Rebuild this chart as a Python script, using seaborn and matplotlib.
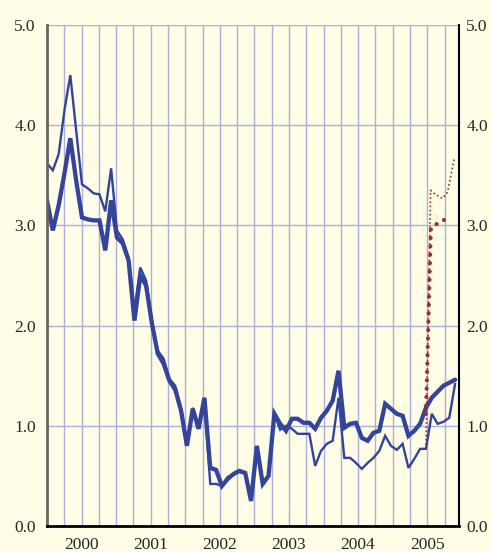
import numpy as np
import pandas as pd
import matplotlib
matplotlib.use("Agg")
import matplotlib.pyplot as plt
import matplotlib.transforms as mtransforms
import seaborn as sns

# ---------------- data ----------------
years = ["2000", "2001", "2002", "2003", "2004", "2005"]
y_ticks = [0.0, 1.0, 2.0, 3.0, 4.0, 5.0]
y_labels = ["0.0", "1.0", "2.0", "3.0", "4.0", "5.0"]

months = np.arange(71)  # Jan 2000 .. Nov 2005

rate_thick = [3.25, 2.95, 3.20, 3.52, 3.87, 3.45, 3.08, 3.06, 3.05, 3.05, 2.75, 3.25,
              2.88, 2.82, 2.65, 2.05, 2.50, 2.40, 2.02, 1.72, 1.62, 1.45, 1.36, 1.15,
              0.80, 1.17, 0.97, 1.28, 0.58, 0.56, 0.40, 0.47, 0.52, 0.55, 0.53, 0.25,
              0.80, 0.42, 0.50, 1.12, 1.02, 0.95, 1.07, 1.07, 1.03, 1.03, 0.97, 1.08,
              1.15, 1.25, 1.55, 0.98, 1.02, 1.03, 0.88, 0.85, 0.93, 0.95, 1.22, 1.17,
              1.12, 1.10, 0.90, 0.95, 1.02, 1.18, 1.28, 1.34, 1.40, 1.43, 1.46]

rate_thin = [3.62, 3.55, 3.71, 4.15, 4.50, 3.95, 3.41, 3.37, 3.32, 3.31, 3.14, 3.57,
             2.95, 2.86, 2.68, 2.15, 2.58, 2.45, 2.05, 1.75, 1.67, 1.47, 1.40, 1.18,
             0.82, 1.18, 0.98, 1.25, 0.42, 0.42, 0.40, 0.49, 0.51, 0.54, 0.52, 0.25,
             0.78, 0.42, 0.50, 1.12, 0.96, 1.00, 0.97, 0.92, 0.92, 0.92, 0.60, 0.75,
             0.82, 0.85, 1.28, 0.68, 0.68, 0.63, 0.57, 0.63, 0.68, 0.75, 0.90, 0.80,
             0.76, 0.82, 0.58, 0.67, 0.77, 0.77, 1.12, 1.02, 1.04, 1.08, 1.42]

fwd_small_months = [65.0, 65.8, 66.4, 67.8, 68.7, 69.9]
fwd_small = [0.77, 3.35, 3.32, 3.27, 3.33, 3.68]

fwd_big_months = [65.0, 65.85, 66.4, 67.7, 68.8]
fwd_big = [1.12, 2.97, 3.00, 3.04, 3.08]

# ---------------- style ----------------
BG = "#fffde6"
BLUE = "#34449a"
RED = "#9a2f2d"
GRID = "#adb0da"
STEP = 1.012  # horizontal spacing of monthly points relative to the calendar axis

sns.set_style("white")
plt.rcParams["font.family"] = ["Liberation Serif", "DejaVu Serif"]

fig = plt.figure(figsize=(4.92, 5.52), dpi=100, facecolor=BG)
ax = fig.add_axes([0.0955, 0.0471, 0.8384, 0.9076])
ax.set_facecolor(BG)

df = pd.DataFrame({"x": months * STEP, "thick": rate_thick, "thin": rate_thin})
fs = pd.DataFrame({"x": np.array(fwd_small_months) * STEP, "v": fwd_small})
fb = pd.DataFrame({"x": np.array(fwd_big_months) * STEP, "v": fwd_big})

sns.lineplot(data=df, x="x", y="thin", ax=ax, color=BLUE, lw=1.7, estimator=None,
             sort=False, solid_joinstyle="miter")
sns.lineplot(data=df, x="x", y="thick", ax=ax, color=BLUE, lw=3.1, estimator=None,
             sort=False, solid_joinstyle="miter")
sns.lineplot(data=fs, x="x", y="v", ax=ax, color=RED, lw=1.2, estimator=None, sort=False)
sns.lineplot(data=fb, x="x", y="v", ax=ax, color=RED, lw=3.0, estimator=None, sort=False)
ax.lines[2].set_dashes([1.0, 1.5])
ax.lines[3].set_dashes([0.01, 2.0])
ax.lines[3].set_dash_capstyle("round")

ax.set_xlim(0, 71.6)
ax.set_ylim(0, 5)
ax.set_xlabel("")
ax.set_ylabel("")

# x ticks: year boundaries (long), quarters (short)
ax.set_xticks([12 * i for i in range(6)])
ax.set_xticks([3 * i for i in range(24)], minor=True)
ax.set_xticklabels([])
ax.tick_params(axis="x", which="major", length=7, width=1.5, color="black", direction="out")
ax.tick_params(axis="x", which="minor", length=4, width=1.5, color="black", direction="out")

# grid
ax.set_axisbelow(True)
ax.grid(True, axis="x", which="both", color=GRID, lw=1.0)
ax.set_yticks(y_ticks)
ax.grid(True, axis="y", which="major", color=GRID, lw=1.0)

# y labels both sides
ax.set_yticklabels(y_labels, fontsize=12.5)
ax.tick_params(axis="y", length=0, pad=8)
ax2 = ax.twinx()
ax2.set_ylim(0, 5)
ax2.set_yticks(y_ticks)
ax2.set_yticklabels(y_labels, fontsize=12.5)
ax2.tick_params(axis="y", length=0, pad=5)
ax2.grid(False)

# year labels
trans = mtransforms.blended_transform_factory(ax.transData, ax.transAxes)
for i, yr in enumerate(years):
    ax.text(12 * i + 6, -0.037, yr, transform=trans, ha="center", va="center",
            fontsize=12.5)

# spines
for a in (ax, ax2):
    a.spines["top"].set_visible(False)
ax.spines["left"].set_color("#666666")
ax.spines["left"].set_linewidth(2.0)
ax2.spines["left"].set_visible(False)
ax2.spines["bottom"].set_visible(False)
ax.spines["right"].set_visible(False)
ax2.spines["right"].set_color("black")
ax2.spines["right"].set_linewidth(1.5)
ax.spines["bottom"].set_color("black")
ax.spines["bottom"].set_linewidth(2.0)

fig.savefig("out.png", dpi=100, facecolor=BG)
